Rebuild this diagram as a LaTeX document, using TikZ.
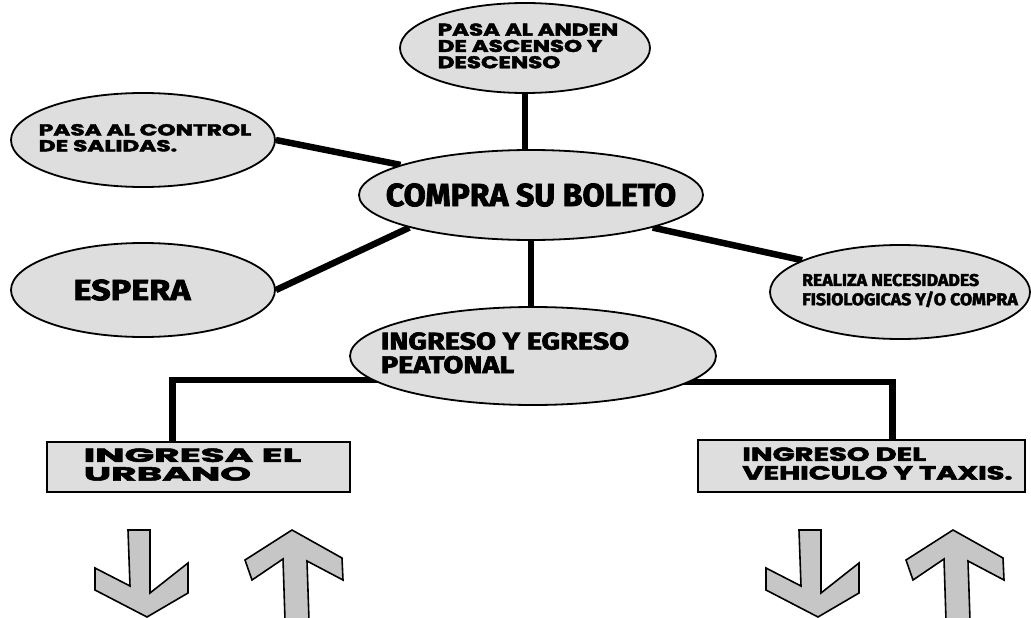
\documentclass[tikz,border=0pt]{standalone}
\usepackage{fontspec}
\usepackage{graphicx}
\setmainfont{Fira Sans}[BoldFeatures={FakeBold=2.5}]
\newfontfamily\widefont{Poppins}[BoldFeatures={FakeBold=2.5}]
\usetikzlibrary{shapes.geometric,backgrounds}
\tikzset{
  oval/.style={ellipse,draw=black,line width=1.8pt,fill=gray!26,inner sep=0pt},
  boxnode/.style={rectangle,draw=black,line width=1.8pt,fill=gray!26,inner sep=0pt},
  link/.style={line width=6.5pt,draw=black},
  chevron/.style={draw=black,line width=1.6pt,fill=gray!45,line join=miter},
}
\newcommand\hs[2]{\scalebox{#1}[1]{#2}}
\newcommand\ctext[2][0pt]{\makebox[0pt]{\kern#1\relax #2\kern-#1\relax}}
\newcommand\lines[1]{\begin{tabular}{@{}l@{}}#1\end{tabular}}
\begin{document}
\begin{tikzpicture}[x=1pt,y=-1pt]
\useasboundingbox (0,0) rectangle (1031,618);

% ellipses
\node[oval,minimum width=250pt,minimum height=90pt] (t) at (525,48)
  {\ctext[3pt]{\raisebox{-4pt}{\widefont\bfseries\fontsize{17}{14}\selectfont\hs{1.35}{\lines{PASA AL ANDEN\\DE ASCENSO Y\\DESCENSO}}}}};
\node[oval,minimum width=264pt,minimum height=94pt] (lt) at (143,140)
  {\ctext[2pt]{\widefont\bfseries\fontsize{16}{15}\selectfont\hs{1.45}{\lines{PASA AL CONTROL\\DE SALIDAS.}}}};
\node[oval,minimum width=344pt,minimum height=90pt] (c) at (531,195)
  {\ctext{\bfseries\fontsize{32}{36}\selectfont COMPRA SU BOLETO}};
\node[oval,minimum width=264pt,minimum height=94pt] (es) at (143,290)
  {\ctext[-11pt]{\bfseries\fontsize{29}{32}\selectfont\hs{1.18}{ESPERA}}};
\node[oval,minimum width=260pt,minimum height=94pt] (r) at (900,292)
  {\ctext[10pt]{\raisebox{4pt}{\bfseries\fontsize{17}{18}\selectfont\hs{1.04}{\lines{REALIZA NECESIDADES\\FISIOLOGICAS Y/O COMPRA}}}}};
\node[oval,minimum width=366pt,minimum height=98pt] (i) at (533,356)
  {\ctext[-28pt]{\bfseries\fontsize{24}{22}\selectfont\hs{1.2}{\lines{INGRESO Y EGRESO\\PEATONAL}}}};

% boxes
\node[boxnode,minimum width=303pt,minimum height=50pt] (u) at (198.5,467)
  {\ctext[-6pt]{\widefont\bfseries\fontsize{19}{17}\selectfont\hs{2.05}{\lines{INGRESA EL\\URBANO}}}};
\node[boxnode,minimum width=327pt,minimum height=52pt] (v) at (861.5,466)
  {\ctext[16pt]{\widefont\bfseries\fontsize{19}{17}\selectfont\hs{1.52}{\lines{INGRESO DEL\\VEHICULO Y TAXIS.}}}};

% connectors
\begin{scope}[on background layer]
\fill[white] (0,0) rectangle (1031,618);
\draw[link] (t.south) -- (t.south |- c.north);
\draw[link] (lt.east) -- (c.167);
\draw[link] (es.east) -- (c.195);
\draw[link] (c.345) -- (r.162);
\draw[link] (c.south) -- (c.south |- i.north);
\draw[link] ([yshift=-24pt]i.center) -| ([xshift=-26pt]u.north);
\draw[link] ([yshift=-26pt]i.center) -| ([xshift=31pt]v.north);
\end{scope}

% arrows (shapes)
\foreach \dx in {0,671}{
  \draw[chevron,xshift=\dx pt] (128,530) -- (150,530) -- (150,593) -- (188,563) -- (188,593)
    -- (147,617) -- (95,590) -- (95,568) -- (130,586) -- cycle;
}
\foreach \dx in {0,661}{
  \draw[chevron,xshift=\dx pt] (292,530) -- (342,558) -- (343,580) -- (307,561) -- (309,620)
    -- (285,620) -- (283,559) -- (252,580) -- (245,560) -- cycle;
}
\end{tikzpicture}
\end{document}
